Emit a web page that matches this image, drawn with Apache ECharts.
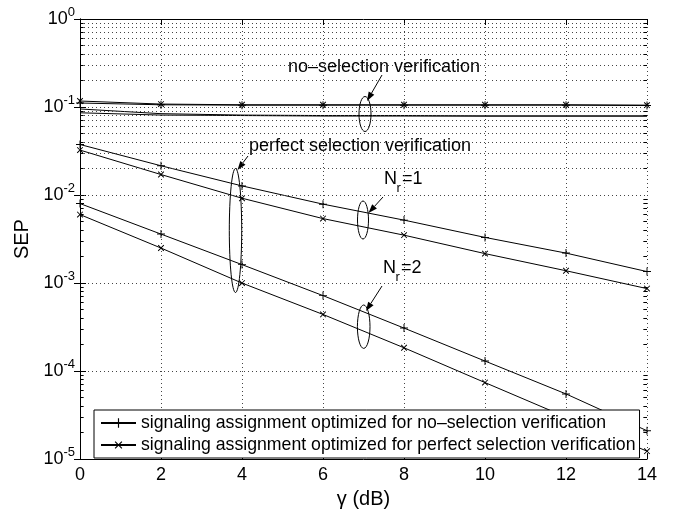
<!DOCTYPE html>
<html>
<head>
<meta charset="utf-8">
<script src="https://cdn.jsdelivr.net/npm/echarts/dist/echarts.min.js"></script>
<style>
  html, body { margin: 0; padding: 0; background: #fff; }
  #chart { width: 680px; height: 514px; }
</style>
</head>
<body>
<div id="chart"></div>
<script>
// gamma (dB) on the x axis
var gamma = [0, 2, 4, 6, 8, 10, 12, 14];

// no-selection verification curves (top, around 1e-1)
var noSelPlus  = [0.111, 0.106, 0.105, 0.105, 0.105, 0.105, 0.105, 0.104];
var noSelCross = [0.117, 0.108, 0.106, 0.106, 0.106, 0.106, 0.106, 0.105];
var noSelLowA  = [0.095, 0.084, 0.081, 0.080, 0.080, 0.079, 0.079, 0.079];
var noSelLowB  = [0.086, 0.081, 0.080, 0.079, 0.079, 0.079, 0.079, 0.079];

// perfect selection verification, Nr = 1
var nr1Plus  = [0.0375, 0.0215, 0.0127, 0.00788, 0.00519, 0.0033, 0.00219, 0.00135];
var nr1Cross = [0.0324, 0.0171, 0.0092, 0.0054, 0.0035, 0.00216, 0.00138, 0.000865];

// perfect selection verification, Nr = 2
var nr2Plus  = [0.0080, 0.0036, 0.00162, 0.00072, 0.000308, 0.00013, 0.000055, 0.000021];
var nr2Cross = [0.0060, 0.0025, 0.0010, 0.00044, 0.000184, 0.000074, 0.000030, 0.0000123];

var namePlus  = 'signaling assignment optimized for no–selection verification';
var nameCross = 'signaling assignment optimized for perfect selection verification';

var FONT = '"Liberation Sans", Arial, sans-serif';
var plusPath = 'path://M4.4,0 L5.6,0 L5.6,4.4 L10,4.4 L10,5.6 L5.6,5.6 L5.6,10 L4.4,10 L4.4,5.6 L0,5.6 L0,4.4 L4.4,4.4 Z';

// dotted minor grid at 2..9 x 10^k, plus the small minor ticks on both sides
var minorVals = [];
for (var k = -5; k < 0; k++) {
  for (var m = 2; m <= 9; m++) {
    minorVals.push(m * Math.pow(10, k));
  }
}
var minorGrid = minorVals.map(function (v) { return { yAxis: v }; });
var minorTicks = [];
minorVals.forEach(function (v) {
  minorTicks.push([{ coord: [0, v] }, { coord: [0.09, v] }]);
  minorTicks.push([{ coord: [13.91, v] }, { coord: [14, v] }]);
});

function mkSeries (name, vals, marker) {
  return {
    name: name,
    type: 'line',
    data: gamma.map(function (g, i) { return [g, vals[i]]; }),
    symbol: marker ? plusPath : 'none',
    symbolSize: 8,
    symbolRotate: marker === 'x' ? 45 : 0,
    showAllSymbol: true,
    lineStyle: { color: '#000', width: 1 },
    itemStyle: { color: '#000' },
    emphasis: { disabled: true },
    animation: false,
    z: 3
  };
}

var series = [
  mkSeries(namePlus, noSelPlus, '+'),
  mkSeries(nameCross, noSelCross, 'x'),
  mkSeries('lowA', noSelLowA, null),
  mkSeries('lowB', noSelLowB, null),
  mkSeries(namePlus, nr1Plus, '+'),
  mkSeries(nameCross, nr1Cross, 'x'),
  mkSeries(namePlus, nr2Plus, '+'),
  mkSeries(nameCross, nr2Cross, 'x')
];
series[2].markLine = {
  silent: true,
  symbol: ['none', 'none'],
  label: { show: false },
  animation: false,
  lineStyle: { color: '#444', type: [1, 3], width: 1 },
  data: minorGrid
};
series[3].markLine = {
  silent: true,
  symbol: ['none', 'none'],
  label: { show: false },
  animation: false,
  lineStyle: { color: '#000', type: 'solid', width: 1 },
  data: minorTicks
};

function sup (v) {
  var e = Math.round(Math.log10(v));
  return '{b|10}{s|' + (e < 0 ? '-' + (-e) : e) + '}';
}

function arrow (x1, y1, x2, y2) {
  var a = Math.atan2(y2 - y1, x2 - x1);
  var len = 9, hw = 3.2;
  var bx = x2 - len * Math.cos(a), by = y2 - len * Math.sin(a);
  return [
    { type: 'line', silent: true, shape: { x1: x1, y1: y1, x2: bx, y2: by }, style: { stroke: '#000', lineWidth: 1 } },
    { type: 'polygon', silent: true, shape: { points: [[x2, y2], [bx - hw * Math.sin(a), by + hw * Math.cos(a)], [bx + hw * Math.sin(a), by - hw * Math.cos(a)]] }, style: { fill: '#000' } }
  ];
}
function ell (cx, cy, rx, ry) {
  return { type: 'ellipse', silent: true, shape: { cx: cx, cy: cy, rx: rx, ry: ry }, style: { fill: 'none', stroke: '#000', lineWidth: 1 } };
}
function txt (x, y, s, size) {
  return { type: 'text', silent: true, x: x, y: y, style: { text: s, font: size + 'px ' + FONT, fill: '#000', verticalAlign: 'middle' } };
}

var graphic = [].concat(
  [txt(288, 67, 'no–selection verification', 18)],
  arrow(382, 75, 367, 101),
  [ell(365, 114, 6, 17.5)],
  [txt(249, 146, 'perfect selection verification', 18)],
  arrow(248, 156, 237.5, 170),
  [ell(235.5, 230.5, 6.2, 62)],
  [txt(384, 179, 'N', 18), txt(396.5, 188, 'r', 13), txt(402, 179, '=1', 18)],
  arrow(383, 197, 368.5, 213),
  [ell(363, 220, 5.5, 19)],
  [txt(383, 268, 'N', 18), txt(395.5, 277, 'r', 13), txt(401, 268, '=2', 18)],
  arrow(382, 286, 366, 311),
  [ell(363.7, 326.7, 6.3, 21.7)]
);

var chart = echarts.init(document.getElementById('chart'));
chart.setOption({
  backgroundColor: '#fff',
  animation: false,
  textStyle: { fontFamily: FONT },
  grid: { left: 80, right: 33, top: 19, bottom: 49 },
  legend: {
    data: [namePlus, nameCross],
    orient: 'vertical',
    left: 94,
    top: 410,
    padding: [3, 4, 3, 6],
    itemGap: 2,
    itemWidth: 35,
    itemHeight: 12,
    backgroundColor: '#fff',
    borderColor: '#000',
    borderWidth: 1,
    borderRadius: 0,
    selectedMode: false,
    textStyle: { fontSize: 17.7, color: '#000', fontFamily: FONT, lineHeight: 20 }
  },
  xAxis: [{
    type: 'value',
    min: 0,
    max: 14,
    interval: 2,
    name: 'γ (dB)',
    nameLocation: 'middle',
    nameGap: 26,
    nameTextStyle: { fontSize: 20, color: '#000', fontFamily: FONT },
    axisLine: { lineStyle: { color: '#000', width: 1 } },
    axisTick: { inside: true, length: 6, lineStyle: { color: '#000' } },
    axisLabel: { fontSize: 18, color: '#000', margin: 7, fontFamily: FONT },
    splitLine: { show: true, lineStyle: { color: '#444', type: [1, 3], width: 1 } }
  }, {
    type: 'value',
    position: 'top',
    min: 0,
    max: 14,
    interval: 2,
    axisLine: { show: true, lineStyle: { color: '#000', width: 1 } },
    axisTick: { show: true, inside: true, length: 6, lineStyle: { color: '#000' } },
    axisLabel: { show: false },
    splitLine: { show: false }
  }],
  yAxis: [{
    type: 'log',
    logBase: 10,
    min: 1e-5,
    max: 1,
    name: 'SEP',
    nameLocation: 'middle',
    nameGap: 40,
    nameTextStyle: { fontSize: 20, color: '#000', fontFamily: FONT },
    axisLine: { show: true, lineStyle: { color: '#000', width: 1 } },
    axisTick: { show: true, inside: true, length: 6, lineStyle: { color: '#000' } },
    axisLabel: {
      margin: 5,
      formatter: sup,
      rich: {
        b: { fontSize: 18, color: '#000', fontFamily: FONT },
        s: { fontSize: 13, color: '#000', fontFamily: FONT, padding: [0, 0, 14, 0] }
      }
    },
    splitLine: { show: true, lineStyle: { color: '#444', type: [1, 3], width: 1 } }
  }, {
    type: 'log',
    logBase: 10,
    min: 1e-5,
    max: 1,
    position: 'right',
    axisLine: { show: true, lineStyle: { color: '#000', width: 1 } },
    axisTick: { show: true, inside: true, length: 6, lineStyle: { color: '#000' } },
    axisLabel: { show: false },
    splitLine: { show: false }
  }],
  series: series,
  graphic: graphic
});
</script>
</body>
</html>
